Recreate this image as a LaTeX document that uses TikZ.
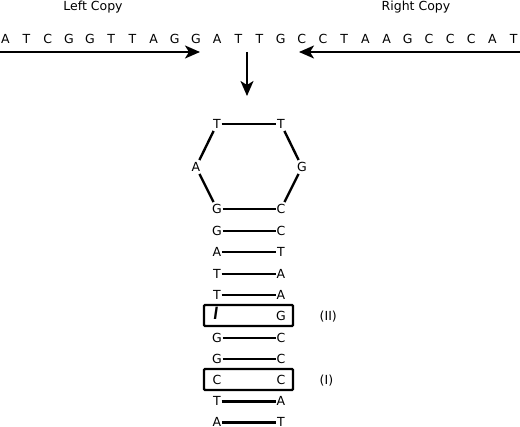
\documentclass[tikz,border=0pt]{standalone}
\usepackage{fontspec}
\setmainfont{DejaVu Sans}
\usepackage{tikz}
\usetikzlibrary{positioning}
\usetikzlibrary{arrows.meta, matrix}

\begin{document}
\begin{tikzpicture}[x=1pt,y=-1pt,font=\fontsize{12.5}{15}\selectfont]

 \tikzset{seq row/.style={
 		matrix of nodes,
 		column sep=0pt,
 		nodes={minimum width=#1,
 			anchor=center,
 			inner sep=0pt,
 			text height=9pt,
 			text depth=0pt
 		},
 	},
 	seq row/.default=21.18pt,
 	base/.style={inner sep=0.5pt, text height=9pt, text depth=0pt},
 	pair/.style={line width=2.4pt},
 	ring/.style={line width=2.4pt, shorten >=2pt, shorten <=2pt},
 	box/.style={draw, line width=2.2pt, rounded corners=1pt,
 		minimum width=89pt, minimum height=21pt},
 	arrow/.style={line width=2pt, -{Stealth[length=15pt,width=13pt,inset=4pt]}}
 }
 \useasboundingbox (0,0) rectangle (520,427);

 \node (left) at (93,7) {Left Copy};
 \node (right) at (416,7) {Right Copy};

 \matrix[seq row] (seq) at (259.5,39)
 {
 	A & T & C & G & G & T & T & A & G & G & A & T & T & G & C & C & T & A & A & G & C & C & C & A & T \\
 };

 \coordinate (lstart) at (0,52);
 \coordinate (ltip) at (200,52);
 \coordinate (rstart) at (520,52);
 \coordinate (rtip) at (299,52);
 \coordinate (dstart) at (247,52);
 \coordinate (dtip) at (247,96);
 \draw[arrow] (lstart) -- (ltip);
 \draw[arrow] (rstart) -- (rtip);
 \draw[arrow] (dstart) -- (dtip);

 % loop
 \node[base] (h1) at (217,124) {T};
 \node[base] (h2) at (281,124) {T};
 \node[base] (h3) at (302,167) {G};
 \node[base] (h4) at (281,209) {C};
 \node[base] (h5) at (217,209) {G};
 \node[base] (h6) at (196,167) {A};
 \draw[pair] (h1) -- (h2);
 \draw[pair] (h5) -- (h4);
 \draw[ring] (h2) -- (h3);
 \draw[ring] (h3) -- (h4);
 \draw[ring] (h5) -- (h6);
 \draw[ring] (h6) -- (h1);

 % stem
 \foreach \l/\r/\y [count=\i] in {G/C/231, A/T/252, T/A/274, T/A/295, G/C/338, G/C/359, T/A/401.5, A/T/422.5}
 {
 	\node[base] (l\i) at (217,\y) {\l};
 	\node[base] (r\i) at (281,\y) {\r};
 	\draw[pair] (l\i) -- (r\i);
 }

 % mismatches
 \node[box] (boxII) at (248.5,315.5) {};
 \node[base] (lII) at (216,315) {\scalebox{1}[1.35]{\bfseries\itshape I}};
 \node[base] (rII) at (281,316) {G};
 \node[base, anchor=west] (labII) at (319,316) {(II)};
 \node[box] (boxI) at (248.5,379.5) {};
 \node[base] (lI) at (217,380) {C};
 \node[base] (rI) at (281,380) {C};
 \node[base, anchor=west] (labI) at (319,380) {(I)};
\end{tikzpicture}
\end{document}
